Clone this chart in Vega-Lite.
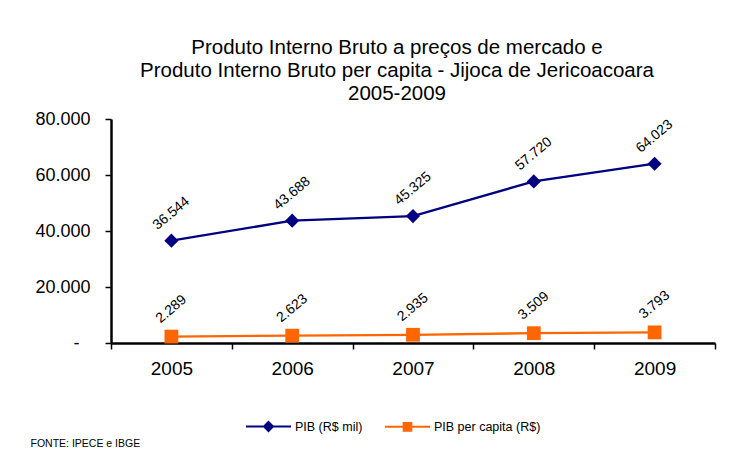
{
  "$schema": "https://vega.github.io/schema/vega-lite/v6.json",
  "autosize": {"type": "none"},
  "width": 604,
  "height": 224,
  "padding": {"left": 111, "top": 119, "right": 32, "bottom": 119},
  "background": "white",
  "config": {
    "locale": {"number": {"decimal": ",", "thousands": ".", "grouping": [3], "currency": ["R$", ""]}},
    "font": "Liberation Sans",
    "view": {"stroke": null}
  },
  "title": {
    "text": ["Produto Interno Bruto a preços de mercado  e", "Produto Interno Bruto per capita - Jijoca de Jericoacoara", "2005-2009"],
    "font": "Liberation Sans",
    "fontSize": 20.5,
    "fontWeight": "normal",
    "color": "black",
    "lineHeight": 23,
    "anchor": "middle",
    "dx": -16,
    "offset": 6
  },
  "data": {
    "values": [
      {"ano": "2005", "serie": "PIB (R$ mil)", "valor": 36544},
      {"ano": "2006", "serie": "PIB (R$ mil)", "valor": 43688},
      {"ano": "2007", "serie": "PIB (R$ mil)", "valor": 45325},
      {"ano": "2008", "serie": "PIB (R$ mil)", "valor": 57720},
      {"ano": "2009", "serie": "PIB (R$ mil)", "valor": 64023},
      {"ano": "2005", "serie": "PIB per capita (R$)", "valor": 2289},
      {"ano": "2006", "serie": "PIB per capita (R$)", "valor": 2623},
      {"ano": "2007", "serie": "PIB per capita (R$)", "valor": 2935},
      {"ano": "2008", "serie": "PIB per capita (R$)", "valor": 3509},
      {"ano": "2009", "serie": "PIB per capita (R$)", "valor": 3793}
    ]
  },
  "encoding": {
    "x": {
      "field": "ano", "type": "ordinal",
      "scale": {"paddingInner": 0, "paddingOuter": 0},
      "axis": {
        "title": "FONTE: IPECE e IBGE",
        "titleAnchor": "start", "titleAlign": "left", "titleBaseline": "middle",
        "titleX": -81, "titleY": 100,
        "titleFont": "Liberation Sans", "titleFontSize": 10.5, "titleFontWeight": "normal", "titleColor": "black",
        "labelAngle": 0, "labelFontSize": 19, "labelColor": "black", "labelPadding": 10,
        "domainColor": "black", "domainWidth": 2.5,
        "tickColor": "black", "tickWidth": 1.5, "tickSize": 6, "tickBand": "extent"
      }
    },
    "y": {
      "field": "valor", "type": "quantitative",
      "scale": {"domain": [0, 80000], "nice": false},
      "axis": {
        "title": null, "grid": false,
        "values": [0, 20000, 40000, 60000, 80000],
        "labelExpr": "datum.value === 0 ? '-' : (datum.value / 1000) + '.000'",
        "labelFontSize": 18, "labelColor": "black",
        "labelPadding": {"condition": {"test": "datum.value === 0", "value": 26}, "value": 15},
        "domainColor": "black", "domainWidth": 2.5,
        "tickColor": "black", "tickWidth": 1.5, "tickSize": 6
      }
    },
    "color": {
      "field": "serie", "type": "nominal",
      "scale": {"domain": ["PIB (R$ mil)", "PIB per capita (R$)"], "range": ["#000080", "#FF6600"]},
      "legend": {
        "orient": "none", "direction": "horizontal",
        "legendX": 134, "legendY": 284,
        "title": null,
        "labelFont": "Liberation Sans", "labelFontSize": 12.5, "labelColor": "black",
        "labelOffset": 3, "columnPadding": 18,
        "symbolSize": 2025, "symbolStrokeWidth": 2,
        "encode": {
          "symbols": {
            "update": {
              "shape": {"signal": "datum.value === 'PIB (R$ mil)' ? 'M-1,0L1,0M0,-0.2L0.2,0L0,0.2L-0.2,0Z' : 'M-1,0L1,0M-0.17,-0.17L0.17,-0.17L0.17,0.17L-0.17,0.17Z'"},
              "size": {"value": 2025},
              "fill": {"signal": "datum.value === 'PIB (R$ mil)' ? '#000080' : '#FF6600'"},
              "stroke": {"signal": "datum.value === 'PIB (R$ mil)' ? '#000080' : '#FF6600'"},
              "strokeWidth": {"value": 2},
              "opacity": {"value": 1}
            }
          }
        }
      }
    }
  },
  "layer": [
    {"mark": {"type": "line", "strokeWidth": 2.3}},
    {
      "transform": [{"filter": "datum.serie === 'PIB (R$ mil)'"}],
      "mark": {"type": "point", "filled": true, "opacity": 1, "shape": "diamond", "size": 200}
    },
    {
      "transform": [{"filter": "datum.serie === 'PIB per capita (R$)'"}],
      "mark": {"type": "point", "filled": true, "opacity": 1, "shape": "square", "size": 190}
    },
    {
      "mark": {"type": "text", "angle": -40, "dx": 17.5, "dy": -21, "fontSize": 14, "color": "black", "align": "center", "baseline": "middle", "font": "Liberation Sans"},
      "encoding": {
        "text": {"field": "valor", "type": "quantitative", "format": ","},
        "color": {"value": "black"}
      }
    }
  ]
}
